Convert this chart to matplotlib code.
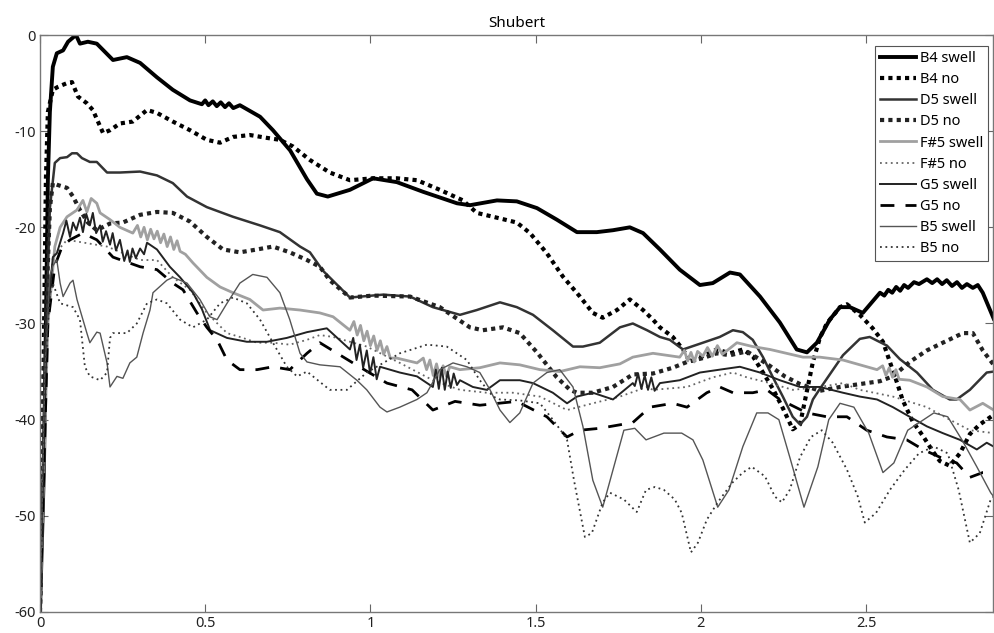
"""Shubert: level curves per note, swell vs no swell."""

import matplotlib
matplotlib.use("Agg")
import matplotlib.pyplot as plt

# (time, level) pairs
B4_SWELL = [(0, -60), (0.012, -45), (0.018, -30), (0.024, -15), (0.030, -8), (0.039, -3.3), (0.051, -1.9),
            (0.070, -1.6), (0.085, -0.7), (0.109, 0), (0.121, -0.9), (0.145, -0.7), (0.172, -0.9), (0.221, -2.6),
            (0.263, -2.3), (0.303, -2.9), (0.354, -4.4), (0.402, -5.7), (0.454, -6.8), (0.49, -7.2), (0.50, -6.8),
            (0.51, -7.3), (0.523, -6.9), (0.535, -7.4), (0.547, -7.0), (0.56, -7.5), (0.572, -7.1), (0.585, -7.6),
            (0.605, -7.3), (0.666, -8.5), (0.705, -9.9), (0.757, -12), (0.808, -15), (0.838, -16.5), (0.871, -16.8),
            (0.938, -16.1), (1.008, -14.9), (1.080, -15.3), (1.159, -16.3), (1.262, -17.5), (1.301, -17.7),
            (1.383, -17.2), (1.443, -17.3), (1.504, -18), (1.564, -19.2), (1.625, -20.5), (1.685, -20.5),
            (1.734, -20.3), (1.785, -20), (1.825, -20.6), (1.876, -22.3), (1.936, -24.4), (1.997, -26),
            (2.036, -25.8), (2.088, -24.7), (2.118, -24.9), (2.179, -27.2), (2.239, -29.9), (2.290, -32.7),
            (2.321, -33), (2.351, -32), (2.390, -29.6), (2.421, -28.3), (2.451, -28.3), (2.490, -28.9),
            (2.542, -26.8), (2.555, -27.1), (2.567, -26.5), (2.579, -26.8), (2.591, -26.2), (2.603, -26.6),
            (2.615, -26.0), (2.627, -26.3), (2.645, -25.7), (2.66, -25.9), (2.684, -25.4), (2.70, -25.8),
            (2.715, -25.4), (2.73, -25.9), (2.744, -25.5), (2.76, -26.1), (2.775, -25.7), (2.79, -26.3),
            (2.805, -25.9), (2.823, -26.3), (2.838, -26.0), (2.853, -26.8), (2.886, -29.5)]

B4_NO = [(0, -60), (0.009, -40), (0.018, -15), (0.024, -8), (0.039, -5.7), (0.054, -5.4), (0.082, -5),
         (0.097, -4.9), (0.115, -6.4), (0.142, -7.1), (0.160, -7.8), (0.191, -10.2), (0.212, -9.9), (0.242, -9.2),
         (0.281, -9), (0.324, -7.8), (0.354, -8.1), (0.402, -9), (0.454, -9.9), (0.505, -10.9), (0.545, -11.2),
         (0.584, -10.6), (0.635, -10.4), (0.687, -10.7), (0.726, -10.9), (0.766, -11.6), (0.817, -13),
         (0.877, -14.3), (0.938, -15.1), (1.008, -14.9), (1.080, -14.9), (1.141, -15.1), (1.210, -16.1),
         (1.280, -17.2), (1.322, -18.5), (1.383, -19), (1.443, -19.5), (1.483, -20.6), (1.534, -22.7),
         (1.582, -25.1), (1.634, -27.2), (1.673, -28.9), (1.703, -29.4), (1.746, -28.6), (1.785, -27.5),
         (1.825, -28.6), (1.855, -29.6), (1.876, -30.4), (1.915, -31.4), (1.946, -32.7), (1.967, -34),
         (2.006, -33.4), (2.048, -32.7), (2.088, -33.1), (2.127, -32.7), (2.157, -33.4), (2.188, -35.1),
         (2.218, -36.8), (2.248, -38.8), (2.278, -41), (2.300, -40.5), (2.321, -37), (2.339, -34), (2.360, -31.5),
         (2.381, -30), (2.421, -28.3), (2.442, -28), (2.481, -29.1), (2.520, -30.5), (2.551, -31.9), (2.572, -34),
         (2.593, -36.1), (2.611, -38), (2.641, -40.2), (2.672, -41.7), (2.702, -43.3), (2.723, -44.3),
         (2.753, -44.8), (2.784, -43.5), (2.814, -41.5), (2.844, -40.5), (2.886, -39.5)]

D5_SWELL = [(0, -60), (0.015, -35), (0.030, -18), (0.045, -13.3), (0.061, -12.8), (0.082, -12.7), (0.097, -12.3),
            (0.112, -12.3), (0.127, -12.8), (0.151, -13.2), (0.172, -13.2), (0.203, -14.3), (0.242, -14.3),
            (0.303, -14.2), (0.354, -14.6), (0.402, -15.4), (0.445, -16.8), (0.505, -17.9), (0.584, -18.9),
            (0.666, -19.8), (0.726, -20.5), (0.787, -22), (0.817, -22.6), (0.856, -24.5), (0.938, -27.3),
            (1.038, -27), (1.120, -27.2), (1.189, -28.3), (1.271, -29.1), (1.322, -28.6), (1.392, -27.8),
            (1.443, -28.3), (1.492, -29.1), (1.552, -30.7), (1.613, -32.4), (1.643, -32.4), (1.694, -32),
            (1.755, -30.4), (1.794, -30), (1.837, -30.7), (1.876, -31.4), (1.906, -31.7), (1.946, -32.7),
            (2.006, -32), (2.057, -31.4), (2.097, -30.7), (2.127, -30.9), (2.157, -31.7), (2.188, -33.5),
            (2.218, -35.6), (2.248, -37.6), (2.278, -39.7), (2.300, -40.5), (2.321, -39.7), (2.339, -37.9),
            (2.360, -36.8), (2.430, -33.3), (2.481, -31.6), (2.511, -31.4), (2.563, -32.3), (2.602, -33.7),
            (2.654, -35.1), (2.702, -36.9), (2.753, -37.9), (2.774, -37.9), (2.814, -36.9), (2.865, -35.1),
            (2.886, -35)]

D5_NO = [(0, -60), (0.012, -35), (0.030, -18), (0.039, -15.4), (0.054, -15.6), (0.082, -15.9), (0.100, -16.8),
         (0.121, -18.2), (0.145, -19.5), (0.172, -20.3), (0.212, -19.6), (0.251, -19.5), (0.303, -18.7),
         (0.354, -18.4), (0.402, -18.5), (0.454, -19.4), (0.505, -21), (0.554, -22.3), (0.605, -22.6),
         (0.657, -22.3), (0.705, -22), (0.756, -22.6), (0.808, -23.4), (0.847, -24.1), (0.877, -25.5),
         (0.938, -27.3), (1.008, -27.1), (1.120, -27.2), (1.210, -28.3), (1.301, -30.4), (1.340, -30.7),
         (1.401, -30.4), (1.452, -31), (1.504, -33), (1.564, -35.6), (1.604, -36.9), (1.625, -37.2),
         (1.673, -37.2), (1.734, -36.6), (1.794, -35.3), (1.855, -35.2), (1.915, -34.6), (1.958, -34),
         (2.006, -33.6), (2.048, -33.1), (2.088, -33.3), (2.139, -32.9), (2.200, -34.2), (2.254, -35.5),
         (2.300, -36.3), (2.360, -37), (2.421, -36.6), (2.481, -36.3), (2.542, -36), (2.581, -35.5),
         (2.632, -34), (2.684, -32.8), (2.732, -32), (2.793, -31), (2.823, -31), (2.853, -32.8), (2.886, -34.3)]

FS5_SWELL = [(0, -60), (0.024, -30), (0.045, -22), (0.061, -20), (0.082, -18.9), (0.112, -18.2), (0.13, -17.2),
             (0.142, -18.4), (0.155, -17.0), (0.172, -17.5), (0.182, -18.5), (0.212, -19.2), (0.242, -20),
             (0.281, -20.6), (0.295, -19.8), (0.305, -21), (0.315, -20), (0.325, -21.3), (0.335, -20.2),
             (0.345, -21.2), (0.355, -20.4), (0.365, -21.6), (0.375, -20.7), (0.385, -22), (0.395, -21),
             (0.405, -22.3), (0.415, -21.4), (0.424, -22.5), (0.44, -22.8), (0.463, -23.7), (0.505, -25.2),
             (0.545, -26.2), (0.584, -26.8), (0.635, -27.5), (0.675, -28.6), (0.726, -28.4), (0.787, -28.6),
             (0.847, -28.9), (0.887, -29.3), (0.938, -30.7), (0.95, -29.8), (0.96, -31.2), (0.97, -30.2),
             (0.98, -31.8), (0.99, -30.8), (1.0, -32.3), (1.01, -31.3), (1.02, -32.8), (1.03, -31.8),
             (1.04, -33.2), (1.05, -32.4), (1.06, -33.6), (1.080, -33.6), (1.141, -34.1), (1.16, -33.6),
             (1.17, -34.8), (1.18, -33.8), (1.19, -35.4), (1.2, -34.2), (1.21, -35.6), (1.22, -34.4),
             (1.23, -35.5), (1.24, -34.5), (1.271, -34.8), (1.331, -34.6), (1.392, -34.1), (1.452, -34.3),
             (1.513, -34.8), (1.573, -35), (1.634, -34.5), (1.694, -34.6), (1.755, -34.2), (1.794, -33.5),
             (1.855, -33.1), (1.936, -33.5), (1.95, -32.8), (1.96, -33.9), (1.97, -33.0), (1.98, -34.0),
             (1.99, -32.9), (2.006, -33.4), (2.02, -32.5), (2.035, -33.4), (2.05, -32.3), (2.065, -33.2),
             (2.109, -32), (2.157, -32.4), (2.209, -32.7), (2.309, -33.5), (2.360, -33.5), (2.430, -33.8),
             (2.533, -34.8), (2.55, -34.4), (2.56, -35.4), (2.57, -34.6), (2.58, -35.6), (2.59, -34.8),
             (2.6, -35.8), (2.632, -35.9), (2.684, -36.6), (2.732, -37.6), (2.784, -37.9), (2.814, -39),
             (2.853, -38.3), (2.886, -39)]

FS5_NO = [(0, -60), (0.024, -30), (0.039, -23), (0.082, -21.3), (0.203, -22), (0.303, -23.4), (0.354, -23.4),
          (0.402, -25.2), (0.454, -26.5), (0.505, -28.9), (0.566, -31), (0.605, -31.4), (0.657, -32), (0.705, -32),
          (0.756, -32.2), (0.808, -31.7), (0.847, -31.2), (0.887, -31.4), (0.989, -32.4), (1.089, -34.1),
          (1.189, -35.9), (1.271, -36.9), (1.352, -37.2), (1.431, -37.2), (1.513, -37.6), (1.595, -39),
          (1.673, -38.3), (1.755, -37.6), (1.837, -36.6), (1.855, -36.9), (1.958, -36.6), (2.036, -35.6),
          (2.097, -35.1), (2.139, -35.6), (2.209, -36.2), (2.278, -36.9), (2.360, -36.6), (2.430, -36.2),
          (2.481, -36.9), (2.581, -37.6), (2.684, -38.7), (2.753, -40), (2.814, -41.1), (2.886, -41.4)]

G5_SWELL = [(0, -60), (0.021, -30), (0.039, -23.1), (0.051, -22.7), (0.070, -20.6), (0.08, -19.3), (0.091, -21),
            (0.10, -19.5), (0.11, -20.3), (0.121, -19.0), (0.13, -20.5), (0.14, -18.6), (0.151, -19.8),
            (0.16, -18.5), (0.17, -20.6), (0.182, -19.8), (0.19, -21.5), (0.20, -20.4), (0.212, -21.8),
            (0.22, -20.6), (0.23, -22.4), (0.242, -21.3), (0.255, -23.5), (0.265, -22.4), (0.272, -23.6),
            (0.28, -22.2), (0.29, -23.2), (0.303, -22.2), (0.315, -22.8), (0.324, -21.6), (0.354, -22.3),
            (0.393, -24.1), (0.424, -25.2), (0.463, -26.8), (0.490, -28.5), (0.515, -30.7), (0.566, -31.5),
            (0.626, -31.9), (0.687, -31.9), (0.747, -31.5), (0.808, -30.9), (0.868, -30.5), (0.938, -32.7),
            (0.948, -31.5), (0.958, -33.8), (0.968, -32.2), (0.978, -34.6), (0.989, -32.8), (0.999, -35.2),
            (1.009, -33.5), (1.019, -35.8), (1.029, -34.5), (1.089, -35.1), (1.141, -35.5), (1.189, -36.6),
            (1.198, -34.8), (1.207, -36.8), (1.216, -34.6), (1.225, -36.9), (1.234, -35), (1.243, -36.7),
            (1.252, -35.2), (1.262, -36.4), (1.271, -35.9), (1.310, -36.6), (1.352, -36.9), (1.392, -35.9),
            (1.452, -35.9), (1.492, -36.2), (1.552, -37.2), (1.595, -38.3), (1.625, -37.6), (1.673, -37.2),
            (1.734, -37.9), (1.794, -36.2), (1.80, -36.5), (1.81, -35.2), (1.82, -36.8), (1.83, -35.4),
            (1.84, -36.9), (1.85, -35.6), (1.86, -37), (1.876, -36.2), (1.936, -35.9), (1.997, -35.1),
            (2.057, -34.8), (2.118, -34.5), (2.179, -35.1), (2.239, -35.9), (2.300, -36.6), (2.360, -36.6),
            (2.430, -37.2), (2.481, -37.6), (2.533, -37.9), (2.581, -38.7), (2.632, -39.7), (2.684, -40.7),
            (2.732, -41.4), (2.784, -42.1), (2.835, -43.1), (2.865, -42.4), (2.886, -42.8)]

G5_NO = [(0, -60), (0.024, -30), (0.045, -24), (0.067, -22), (0.091, -21.3), (0.130, -20.6), (0.172, -21.3),
         (0.221, -23.1), (0.303, -24.1), (0.354, -24.4), (0.402, -25.8), (0.433, -26.5), (0.475, -28.9),
         (0.505, -30.4), (0.536, -31.7), (0.566, -33.8), (0.605, -34.8), (0.657, -34.8), (0.705, -34.5),
         (0.756, -34.8), (0.808, -33.1), (0.847, -32), (0.947, -34.1), (1.050, -36.2), (1.126, -36.9),
         (1.189, -39), (1.256, -38.1), (1.331, -38.5), (1.443, -38.1), (1.534, -39.7), (1.595, -41.8),
         (1.634, -41.1), (1.694, -40.9), (1.794, -40.3), (1.846, -38.7), (1.915, -38.3), (1.958, -38.7),
         (2.018, -37.2), (2.057, -36.6), (2.097, -37.2), (2.157, -37.2), (2.200, -36.9), (2.239, -37.9),
         (2.321, -39.3), (2.381, -39.7), (2.442, -39.7), (2.502, -41.1), (2.563, -41.8), (2.623, -42.1),
         (2.672, -43.1), (2.723, -43.9), (2.774, -44.5), (2.814, -46), (2.853, -45.5), (2.886, -45.5)]

B5_SWELL = [(0, -60), (0.015, -35), (0.030, -25), (0.039, -24), (0.051, -23.4), (0.061, -25.8), (0.070, -27.2),
            (0.091, -25.8), (0.100, -25.5), (0.112, -27.5), (0.142, -31), (0.151, -32), (0.172, -30.9),
            (0.182, -31), (0.203, -34.1), (0.212, -36.6), (0.233, -35.5), (0.251, -35.7), (0.272, -34.1),
            (0.293, -33.5), (0.312, -31), (0.333, -28.6), (0.342, -26.8), (0.384, -25.5), (0.402, -25.2),
            (0.445, -25.8), (0.484, -27.5), (0.514, -29.3), (0.536, -29.6), (0.566, -27.9), (0.605, -25.8),
            (0.644, -24.9), (0.687, -25.2), (0.726, -26.8), (0.756, -29.6), (0.787, -33.1), (0.808, -34),
            (0.847, -34.3), (0.908, -34.5), (0.959, -35.9), (0.989, -36.9), (1.029, -38.7), (1.050, -39.2),
            (1.089, -38.7), (1.141, -37.9), (1.171, -37.2), (1.210, -34.8), (1.250, -34.1), (1.292, -34.5),
            (1.331, -35.1), (1.362, -36.9), (1.392, -39), (1.422, -40.3), (1.452, -39.3), (1.492, -36.2),
            (1.534, -35.1), (1.573, -34.8), (1.613, -36.6), (1.643, -40.7), (1.673, -46.3), (1.703, -49.1),
            (1.767, -41.1), (1.800, -40.9), (1.834, -42.1), (1.888, -41.4), (1.942, -41.4), (1.976, -42.1),
            (2.006, -44.2), (2.051, -49.1), (2.085, -47.3), (2.127, -42.8), (2.169, -39.3), (2.203, -39.3),
            (2.236, -40), (2.269, -43.9), (2.312, -49.1), (2.354, -44.9), (2.387, -40), (2.421, -38.3),
            (2.463, -38.7), (2.508, -41.4), (2.551, -45.5), (2.584, -44.5), (2.626, -41.1), (2.705, -39.3),
            (2.747, -39.7), (2.790, -42.1), (2.835, -44.9), (2.877, -47.6), (2.886, -48)]

B5_NO = [(0, -60), (0.015, -35), (0.030, -27), (0.039, -25.8), (0.061, -27.9), (0.100, -28.3), (0.121, -29.6),
         (0.136, -34.5), (0.151, -35.5), (0.182, -35.9), (0.203, -35.1), (0.212, -31.5), (0.221, -31),
         (0.263, -31), (0.293, -30), (0.324, -27.9), (0.354, -27.5), (0.384, -27.9), (0.424, -29.6),
         (0.463, -30.4), (0.484, -30), (0.505, -29.6), (0.545, -27.9), (0.584, -27.3), (0.626, -27.9),
         (0.666, -29.6), (0.705, -32), (0.747, -34.5), (0.778, -35.5), (0.808, -35), (0.877, -36.9),
         (0.929, -36.9), (0.989, -35.1), (1.089, -33.1), (1.171, -32.2), (1.231, -32.4), (1.292, -33.8),
         (1.331, -35.9), (1.371, -37.6), (1.392, -37.9), (1.452, -38), (1.513, -38.3), (1.552, -40),
         (1.582, -41.4), (1.595, -42.1), (1.616, -46.3), (1.649, -52.2), (1.670, -51.8), (1.703, -48.6),
         (1.725, -47.6), (1.767, -48.3), (1.806, -49.6), (1.834, -47.3), (1.861, -47), (1.888, -47.3),
         (1.921, -48.3), (1.942, -49.7), (1.970, -53.8), (1.991, -52.8), (2.018, -50.4), (2.051, -48.6),
         (2.094, -46.6), (2.127, -45.5), (2.154, -44.9), (2.194, -45.9), (2.224, -48), (2.245, -48.6),
         (2.269, -47.3), (2.300, -43.9), (2.333, -41.8), (2.366, -41.1), (2.399, -42.4), (2.442, -45.2),
         (2.475, -48), (2.496, -50.7), (2.530, -49.7), (2.572, -47.3), (2.617, -45.2), (2.660, -43.5),
         (2.705, -42.8), (2.747, -43.5), (2.780, -47.3), (2.814, -52.8), (2.844, -51.8), (2.877, -48.3),
         (2.886, -48)]

SERIES = [
    ("B4 swell", B4_SWELL, dict(color="black", lw=2.8)),
    ("B4 no", B4_NO, dict(color="black", lw=3.0, ls=(0, (1, 1)))),
    ("D5 swell", D5_SWELL, dict(color="#333333", lw=1.8)),
    ("D5 no", D5_NO, dict(color="#222222", lw=3.0, ls=(0, (1, 1)))),
    ("F#5 swell", FS5_SWELL, dict(color="#a0a0a0", lw=2.0)),
    ("F#5 no", FS5_NO, dict(color="#666666", lw=1.3, ls=(0, (1, 2)))),
    ("G5 swell", G5_SWELL, dict(color="#222222", lw=1.4)),
    ("G5 no", G5_NO, dict(color="black", lw=2.0, ls=(0, (5, 4)))),
    ("B5 swell", B5_SWELL, dict(color="#555555", lw=1.0)),
    ("B5 no", B5_NO, dict(color="#333333", lw=1.3, ls=(0, (1, 2)))),
]

plt.rcParams["font.family"] = ["Noto Sans", "DejaVu Sans"]
plt.rcParams["axes.unicode_minus"] = False

fig = plt.figure(figsize=(9.94, 6.33), dpi=100)
ax = fig.add_axes([0.0402, 0.0332, 0.9588, 0.9115])

for label, pts, style in SERIES:
    xs = [p[0] for p in pts]
    ys = [p[1] for p in pts]
    ax.plot(xs, ys, label=label, **style)

ax.set_xlim(0, 2.884)
ax.set_ylim(-60, 0)
ax.set_xticks([0, 0.5, 1, 1.5, 2, 2.5])
ax.set_xticklabels(["0", "0.5", "1", "1.5", "2", "2.5"])
ax.set_yticks([-60, -50, -40, -30, -20, -10, 0])
ax.tick_params(direction="in", length=6, width=0.8, color="#666666",
               top=True, right=True, labelsize=10.5, labelcolor="#222222", pad=3)
for sp in ax.spines.values():
    sp.set_color("#777777")
    sp.set_linewidth(1.0)
ax.set_title("Shubert", fontsize=11, pad=6)

leg = ax.legend(loc="upper right", bbox_to_anchor=(0.995, 0.981), borderaxespad=0,
                fancybox=False, framealpha=1, edgecolor="#555555", fontsize=10.5,
                handlelength=2.5, labelspacing=0.42, handletextpad=0.25, borderpad=0.35)
leg.get_frame().set_linewidth(0.8)

fig.savefig("out.png", dpi=100)
